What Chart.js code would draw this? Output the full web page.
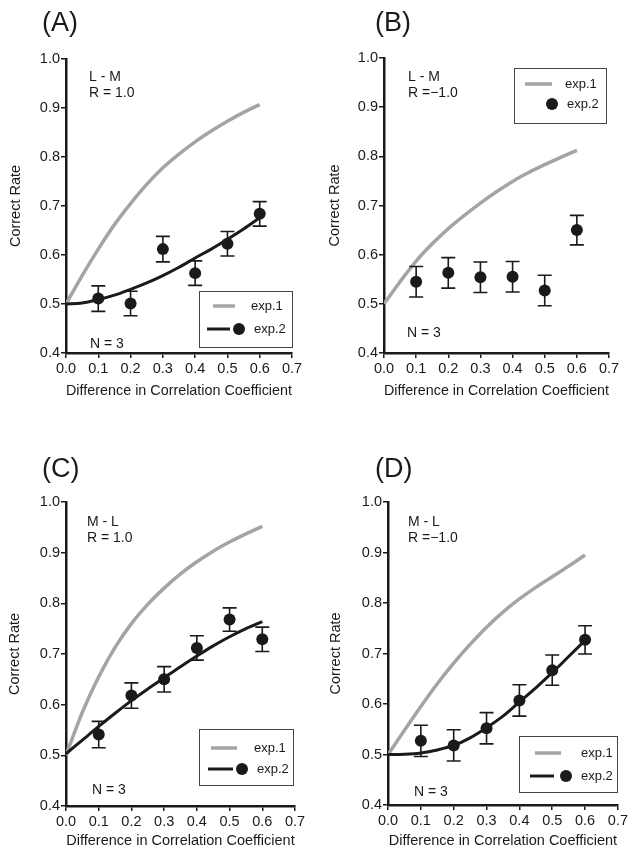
<!DOCTYPE html>
<html>
<head>
<meta charset="utf-8">
<script src="https://cdn.jsdelivr.net/npm/chart.js@4.4.1/dist/chart.umd.min.js"></script>
<style>
  html, body { margin: 0; padding: 0; background: #fff; overflow: hidden; }
  canvas { position: absolute; }
</style>
</head>
<body>
<canvas id="panelA" width="315" height="420" style="left:0;top:0;width:315px;height:420px"></canvas>
<canvas id="panelB" width="315" height="420" style="left:315px;top:0;width:315px;height:420px"></canvas>
<canvas id="panelC" width="315" height="430" style="left:0;top:420px;width:315px;height:430px"></canvas>
<canvas id="panelD" width="315" height="430" style="left:315px;top:420px;width:315px;height:430px"></canvas>
<script>
'use strict';

// x values of the sampled fitted curves and of the measured points
const curveX = [0, 0.05, 0.1, 0.15, 0.2, 0.25, 0.3, 0.35, 0.4, 0.45, 0.5, 0.55, 0.6];
const pointX = [0.1, 0.2, 0.3, 0.4, 0.5, 0.6];

// (A) L - M, R = 1.0
const aExp1 = [0.5, 0.558, 0.612, 0.662, 0.705, 0.744, 0.778, 0.806, 0.831, 0.853, 0.873, 0.891, 0.907];
const aFit = [0.5, 0.502, 0.509, 0.518, 0.530, 0.543, 0.558, 0.575, 0.594, 0.612, 0.632, 0.653, 0.676];
const aMean = [0.511, 0.501, 0.612, 0.563, 0.623, 0.684];
const aErr = [0.026, 0.025, 0.026, 0.025, 0.025, 0.025];

// (B) L - M, R = -1.0 (no fit for exp.2)
const bExp1 = [0.5, 0.545, 0.587, 0.622, 0.653, 0.680, 0.705, 0.728, 0.749, 0.767, 0.783, 0.798, 0.812];
const bMean = [0.545, 0.563, 0.554, 0.555, 0.527, 0.650];
const bErr = [0.031, 0.031, 0.031, 0.031, 0.031, 0.030];

// (C) M - L, R = 1.0
const cExp1 = [0.5, 0.585, 0.655, 0.713, 0.760, 0.798, 0.830, 0.858, 0.882, 0.903, 0.921, 0.937, 0.952];
const cFit = [0.503, 0.530, 0.557, 0.583, 0.608, 0.631, 0.653, 0.675, 0.696, 0.716, 0.734, 0.750, 0.764];
const cMean = [0.541, 0.618, 0.650, 0.712, 0.768, 0.729];
const cErr = [0.026, 0.025, 0.025, 0.024, 0.023, 0.024];

// (D) M - L, R = -1.0
const dExp1 = [0.5, 0.548, 0.595, 0.640, 0.681, 0.718, 0.752, 0.782, 0.808, 0.831, 0.852, 0.873, 0.895];
const dFit = [0.5, 0.5005, 0.503, 0.509, 0.518, 0.533, 0.553, 0.576, 0.604, 0.632, 0.662, 0.694, 0.726];
const dMean = [0.527, 0.518, 0.552, 0.607, 0.667, 0.727];
const dErr = [0.031, 0.031, 0.031, 0.031, 0.030, 0.028];

const xTitle = 'Difference in Correlation Coefficient';
const yTitle = 'Correct Rate';

const FONT = '"Liberation Sans", Arial, Helvetica, sans-serif';
const INK = '#1a1a1a';
const GREY = '#a4a4a4';

function pairs(xs, ys) {
  return xs.map((x, i) => ({ x: x, y: ys[i] }));
}

// error bars with caps, drawn on top of the points
const errorBars = {
  id: 'errorBars',
  afterDatasetsDraw(chart) {
    const ctx = chart.ctx;
    const sx = chart.scales.x, sy = chart.scales.y;
    chart.data.datasets.forEach(ds => {
      if (!ds.errors) return;
      ctx.save();
      ctx.strokeStyle = INK;
      ctx.lineWidth = 1.6;
      ds.data.forEach((p, i) => {
        const px = sx.getPixelForValue(p.x);
        const top = sy.getPixelForValue(p.y + ds.errors[i]);
        const bot = sy.getPixelForValue(p.y - ds.errors[i]);
        ctx.beginPath();
        ctx.moveTo(px, top); ctx.lineTo(px, bot);
        ctx.moveTo(px - 7, top); ctx.lineTo(px + 7, top);
        ctx.moveTo(px - 7, bot); ctx.lineTo(px + 7, bot);
        ctx.stroke();
      });
      ctx.restore();
    });
  }
};

// panel tag, notes and the boxed legend
const panelText = {
  id: 'panelText',
  afterDraw(chart, args, opts) {
    const ctx = chart.ctx;
    ctx.save();
    ctx.fillStyle = INK;
    ctx.textBaseline = 'alphabetic';
    ctx.font = '27px ' + FONT;
    ctx.fillText(opts.tag[0], opts.tag[1], opts.tag[2]);
    ctx.font = '14px ' + FONT;
    opts.notes.forEach(n => ctx.fillText(n[0], n[1], n[2]));

    const lg = opts.legend;
    ctx.strokeStyle = '#444';
    ctx.lineWidth = 1;
    ctx.strokeRect(lg.box[0] + 0.5, lg.box[1] + 0.5, lg.box[2] - lg.box[0], lg.box[3] - lg.box[1]);

    ctx.lineCap = 'butt';
    ctx.strokeStyle = GREY;
    ctx.lineWidth = 3.5;
    ctx.beginPath();
    ctx.moveTo(lg.grey[0], lg.grey[2]);
    ctx.lineTo(lg.grey[1], lg.grey[2]);
    ctx.stroke();

    if (lg.black) {
      ctx.strokeStyle = INK;
      ctx.lineWidth = 3;
      ctx.beginPath();
      ctx.moveTo(lg.black[0], lg.black[2]);
      ctx.lineTo(lg.black[1], lg.black[2]);
      ctx.stroke();
    }
    ctx.fillStyle = INK;
    ctx.beginPath();
    ctx.arc(lg.dot[0], lg.dot[1], 6, 0, Math.PI * 2);
    ctx.fill();

    ctx.font = '13px ' + FONT;
    ctx.textBaseline = 'middle';
    ctx.fillText('exp.1', lg.label1[0], lg.label1[1]);
    ctx.fillText('exp.2', lg.label2[0], lg.label2[1]);
    ctx.restore();
  }
};

function makePanel(id, p) {
  const canvas = document.getElementById(id);
  const W = canvas.width, H = canvas.height;
  const tickFont = { family: FONT, size: 14.5 };
  const titleFont = { family: FONT, size: 14.5 };

  const datasets = [{
    type: 'scatter',
    data: pairs(pointX, p.mean),
    errors: p.err,
    showLine: false,
    pointRadius: 6,
    pointBackgroundColor: INK,
    pointBorderWidth: 0
  }];
  if (p.fit) {
    datasets.push({
      type: 'line',
      data: pairs(curveX, p.fit),
      borderColor: INK,
      borderWidth: 3,
      pointRadius: 0,
      cubicInterpolationMode: 'monotone',
      fill: false
    });
  }
  datasets.push({
    type: 'line',
    data: pairs(curveX, p.exp1),
    borderColor: GREY,
    borderWidth: 3.5,
    pointRadius: 0,
    cubicInterpolationMode: 'monotone',
    fill: false
  });

  return new Chart(canvas, {
    type: 'scatter',
    data: { datasets: datasets },
    plugins: [errorBars, panelText],
    options: {
      responsive: false,
      animation: false,
      layout: { padding: { left: 0, right: W - p.area.right, top: p.area.top, bottom: 0 } },
      plugins: {
        legend: { display: false },
        tooltip: { enabled: false },
        panelText: p.text
      },
      scales: {
        x: {
          type: 'linear',
          min: 0,
          max: 0.7,
          ticks: {
            stepSize: 0.1,
            autoSkip: false,
            maxRotation: 0,
            padding: 2,
            color: INK,
            font: tickFont,
            callback: v => v.toFixed(1)
          },
          grid: { drawOnChartArea: false, drawTicks: true, tickLength: 5, color: INK, lineWidth: 1.5 },
          border: { display: true, color: INK, width: 2.5 },
          title: { display: true, text: xTitle, color: INK, font: titleFont, padding: { top: 0, bottom: p.xTitlePad } },
          afterFit: s => { s.height = H - p.area.bottom; }
        },
        y: {
          type: 'linear',
          min: 0.4,
          max: 1.0,
          ticks: {
            stepSize: 0.1,
            padding: 1,
            color: INK,
            font: tickFont,
            callback: v => v.toFixed(1)
          },
          grid: { drawOnChartArea: false, drawTicks: true, tickLength: 5, color: INK, lineWidth: 1.5 },
          border: { display: true, color: INK, width: 2.5 },
          title: { display: true, text: yTitle, color: INK, font: titleFont, padding: { top: p.yTitlePad, bottom: 0 } },
          afterFit: s => { s.width = p.area.left; }
        }
      }
    }
  });
}

makePanel('panelA', {
  exp1: aExp1, fit: aFit, mean: aMean, err: aErr,
  area: { left: 66, right: 292, top: 59, bottom: 353 },
  xTitlePad: 20, yTitlePad: 7,
  text: {
    tag: ['(A)', 42, 31],
    notes: [['L - M', 89, 81], ['R = 1.0', 89, 97], ['N = 3', 90, 348]],
    legend: {
      box: [199, 291, 292, 347],
      grey: [213, 235, 306], black: [207, 230, 329], dot: [239, 329],
      label1: [251, 306], label2: [254, 329]
    }
  }
});

makePanel('panelB', {
  exp1: bExp1, fit: null, mean: bMean, err: bErr,
  area: { left: 69, right: 294, top: 58, bottom: 353 },
  xTitlePad: 20, yTitlePad: 11,
  text: {
    tag: ['(B)', 60, 31],
    notes: [['L - M', 93, 81], ['R =\u22121.0', 93, 97], ['N = 3', 92, 337]],
    legend: {
      box: [199, 68, 291, 123],
      grey: [210, 237, 84], black: null, dot: [237, 104],
      label1: [250, 84], label2: [252, 104]
    }
  }
});

makePanel('panelC', {
  exp1: cExp1, fit: cFit, mean: cMean, err: cErr,
  area: { left: 66, right: 295, top: 82, bottom: 386 },
  xTitlePad: 0, yTitlePad: 6,
  text: {
    tag: ['(C)', 42, 57],
    notes: [['M - L', 87, 106], ['R = 1.0', 87, 122], ['N = 3', 92, 374]],
    legend: {
      box: [199, 309, 293, 365],
      grey: [211, 237, 328], black: [208, 233, 349], dot: [242, 349],
      label1: [254, 328], label2: [257, 349]
    }
  }
});

makePanel('panelD', {
  exp1: dExp1, fit: dFit, mean: dMean, err: dErr,
  area: { left: 73, right: 305, top: 82, bottom: 385 },
  xTitlePad: 0, yTitlePad: 12,
  text: {
    tag: ['(D)', 60, 57],
    notes: [['M - L', 93, 106], ['R =\u22121.0', 93, 122], ['N = 3', 99, 376]],
    legend: {
      box: [204, 316, 302, 372],
      grey: [220, 246, 333], black: [215, 239, 356], dot: [251, 356],
      label1: [266, 333], label2: [266, 356]
    }
  }
});
</script>
</body>
</html>
